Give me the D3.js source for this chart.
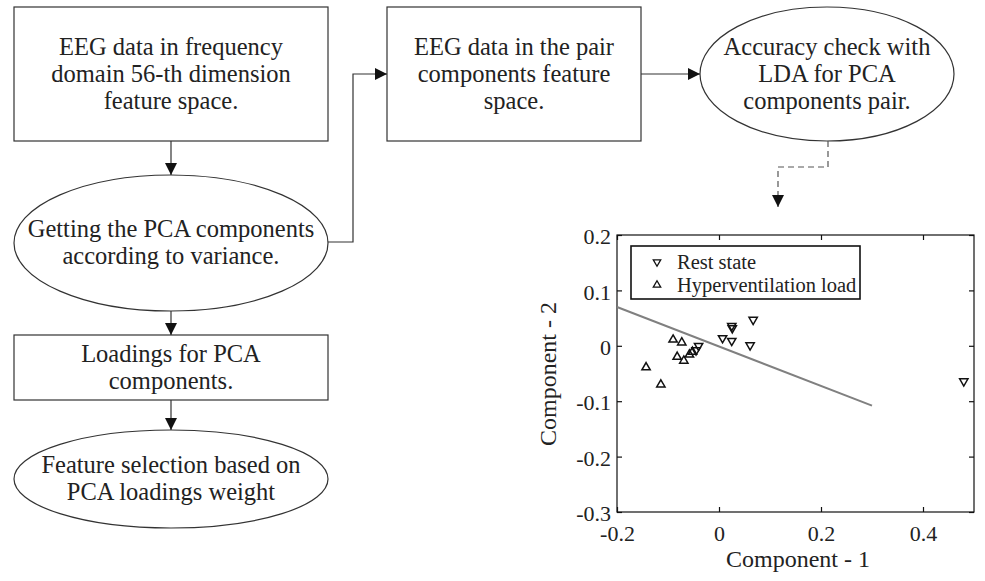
<!DOCTYPE html>
<html>
<head>
<meta charset="utf-8">
<script src="https://cdn.jsdelivr.net/npm/d3@7"></script>
<style>
  html, body { margin: 0; padding: 0; background: #fff; }
  svg { display: block; }
  text { font-family: "Liberation Serif", "DejaVu Serif", serif; fill: #222; }
</style>
</head>
<body>
<svg id="fig" width="985" height="581"></svg>
<script>
// ---- scatter data: PCA component pair ----
const restX  = [0.067, 0.025, 0.026, 0.007, 0.025, 0.061, 0.480, -0.040, -0.045];
const restY  = [0.047, 0.036, 0.032, 0.014, 0.009, 0.001, -0.064, 0.000, -0.008];
const hyperX = [-0.090, -0.073, -0.082, -0.069, -0.143, -0.114, -0.058, -0.052];
const hyperY = [0.011, 0.006, -0.020, -0.027, -0.039, -0.070, -0.016, -0.011];
// LDA decision boundary endpoints
const ldaX = [-0.2, 0.3];
const ldaY = [0.070, -0.108];
const xTicks = [-0.2, 0, 0.2, 0.4];
const yTicks = [0.2, 0.1, 0, -0.1, -0.2, -0.3];
const seriesNames = ["Rest state", "Hyperventilation load"];

// ---- flowchart nodes ----
const nodes = [
  { id: "eeg",   shape: "rect",    x: 14,  y: 7,   w: 314, h: 134, lines: ["EEG data in frequency", "domain 56-th dimension", "feature space."] },
  { id: "pca",   shape: "ellipse", x: 14,  y: 175, w: 314, h: 136, lines: ["Getting the PCA components", "according to variance."] },
  { id: "load",  shape: "rect",    x: 14,  y: 335, w: 314, h: 65,  lines: ["Loadings for PCA", "components."] },
  { id: "feat",  shape: "ellipse", x: 14,  y: 430, w: 314, h: 98,  lines: ["Feature selection based on", "PCA loadings weight"] },
  { id: "pair",  shape: "rect",    x: 387, y: 7,   w: 254, h: 134, lines: ["EEG data in the pair", "components feature", "space."] },
  { id: "lda",   shape: "ellipse", x: 700, y: 7,   w: 254, h: 134, lines: ["Accuracy check with", "LDA for PCA", "components pair."] }
];

const svg = d3.select("#fig");
const ink = "#333";

svg.append("defs").append("marker")
  .attr("id", "arrow").attr("viewBox", "0 0 10 10")
  .attr("refX", 10).attr("refY", 5)
  .attr("markerWidth", 13).attr("markerHeight", 12)
  .attr("markerUnits", "userSpaceOnUse")
  .attr("orient", "auto")
  .append("path").attr("d", "M0,0 L10,5 L0,10 Z").attr("fill", "#111");

const fc = svg.append("g");
nodes.forEach(n => {
  if (n.shape === "rect") {
    fc.append("rect").attr("x", n.x).attr("y", n.y).attr("width", n.w).attr("height", n.h)
      .attr("fill", "#fff").attr("stroke", ink).attr("stroke-width", 1.2);
  } else {
    fc.append("ellipse").attr("cx", n.x + n.w / 2).attr("cy", n.y + n.h / 2)
      .attr("rx", n.w / 2).attr("ry", n.h / 2)
      .attr("fill", "#fff").attr("stroke", ink).attr("stroke-width", 1.2);
  }
  const lh = 27;
  const cy = n.y + n.h / 2;
  const y0 = cy - (n.lines.length - 1) * lh / 2;
  n.lines.forEach((t, i) => {
    fc.append("text").attr("x", n.x + n.w / 2).attr("y", y0 + i * lh)
      .attr("dy", "0.32em").attr("text-anchor", "middle")
      .attr("font-size", 24.5).text(t);
  });
});

const byId = Object.fromEntries(nodes.map(n => [n.id, n]));
const cx = n => n.x + n.w / 2, my = n => n.y + n.h / 2;

// connectors
const links = [
  [[cx(byId.eeg), byId.eeg.y + byId.eeg.h], [cx(byId.pca), byId.pca.y]],
  [[cx(byId.pca), byId.pca.y + byId.pca.h], [cx(byId.load), byId.load.y]],
  [[cx(byId.load), byId.load.y + byId.load.h], [cx(byId.feat), byId.feat.y]],
  [[byId.pca.x + byId.pca.w, my(byId.pca) - 1], [353, my(byId.pca) - 1], [353, my(byId.pair)], [byId.pair.x, my(byId.pair)]],
  [[byId.pair.x + byId.pair.w, my(byId.pair)], [byId.lda.x, my(byId.lda)]]
];
links.forEach(pts => {
  fc.append("path").attr("d", d3.line()(pts))
    .attr("fill", "none").attr("stroke", ink).attr("stroke-width", 1.2)
    .attr("marker-end", "url(#arrow)");
});
// dashed link toward the scatter plot
fc.append("path")
  .attr("d", d3.line()([[828, byId.lda.y + byId.lda.h], [828, 167], [778, 167], [778, 207]]))
  .attr("fill", "none").attr("stroke", "#555").attr("stroke-width", 1.2)
  .attr("stroke-dasharray", "6,4")
  .attr("marker-end", "url(#arrow)");

// ---- scatter plot ----
const x = d3.scaleLinear().domain([-0.2, 0.5]).range([617, 974]);
const y = d3.scaleLinear().domain([-0.3, 0.2]).range([512, 235]);
const plot = svg.append("g");

plot.append("rect").attr("x", 617).attr("y", 235).attr("width", 357).attr("height", 277)
  .attr("fill", "#fff").attr("stroke", "#111").attr("stroke-width", 1.2);

const tl = 5;
const fmt = d => d === 0 ? "0" : d3.format(".1f")(d).replace("−", "-");
const xb = plot.append("g").attr("transform", "translate(0,512)")
  .call(d3.axisBottom(x).tickValues(xTicks).tickSizeInner(-tl).tickSizeOuter(0).tickPadding(13).tickFormat(fmt));
const xt = plot.append("g").attr("transform", "translate(0,235)")
  .call(d3.axisTop(x).tickValues(xTicks).tickSizeInner(-tl).tickSizeOuter(0).tickFormat(""));
const yl = plot.append("g").attr("transform", "translate(617,0)")
  .call(d3.axisLeft(y).tickValues(yTicks).tickSizeInner(-tl).tickSizeOuter(0).tickPadding(6).tickFormat(fmt));
const yr = plot.append("g").attr("transform", "translate(974,0)")
  .call(d3.axisRight(y).tickValues(yTicks).tickSizeInner(-tl).tickSizeOuter(0).tickFormat(""));
[xb, xt, yl, yr].forEach(g => {
  g.select(".domain").remove();
  g.selectAll("line").attr("stroke", "#111").attr("stroke-width", 1.2);
  g.selectAll("text").attr("font-family", "Liberation Serif, serif").attr("font-size", 22).attr("fill", "#222");
});
yl.selectAll("text").attr("y", 2).attr("dy", "0.3em");

// LDA boundary
plot.append("line")
  .attr("x1", x(ldaX[0])).attr("y1", y(ldaY[0]))
  .attr("x2", x(ldaX[1])).attr("y2", y(ldaY[1]))
  .attr("stroke", "#808080").attr("stroke-width", 2);

const tri = d3.symbol().type(d3.symbolTriangle).size(30);
const restPts = restX.map((v, i) => [v, restY[i]]);
const hyperPts = hyperX.map((v, i) => [v, hyperY[i]]);
plot.selectAll(".rest").data(restPts).join("path").attr("class", "rest")
  .attr("d", tri).attr("transform", d => `translate(${x(d[0])},${y(d[1])}) rotate(180)`)
  .attr("fill", "none").attr("stroke", "#111").attr("stroke-width", 1.5);
plot.selectAll(".hyper").data(hyperPts).join("path").attr("class", "hyper")
  .attr("d", tri).attr("transform", d => `translate(${x(d[0])},${y(d[1])})`)
  .attr("fill", "none").attr("stroke", "#111").attr("stroke-width", 1.5);

// legend
const lg = plot.append("g");
lg.append("rect").attr("x", 631).attr("y", 246).attr("width", 229).attr("height", 53)
  .attr("fill", "#fff").attr("stroke", "#111").attr("stroke-width", 1.6);
seriesNames.forEach((name, i) => {
  const ly = 262 + i * 23;
  lg.append("path").attr("d", d3.symbol().type(d3.symbolTriangle).size(24))
    .attr("transform", `translate(657,${ly})` + (i === 0 ? " rotate(180)" : ""))
    .attr("fill", "none").attr("stroke", "#111").attr("stroke-width", 1.3);
  lg.append("text").attr("x", 677).attr("y", ly).attr("dy", "0.35em")
    .attr("font-size", 20.5).text(name);
});

// axis titles
plot.append("text").attr("x", 798).attr("y", 559).attr("dy", "0.35em")
  .attr("text-anchor", "middle").attr("font-size", 24).text("Component - 1");
plot.append("text").attr("transform", "translate(548,374) rotate(-90)").attr("dy", "0.35em")
  .attr("text-anchor", "middle").attr("font-size", 24).text("Component - 2");
</script>
</body>
</html>
